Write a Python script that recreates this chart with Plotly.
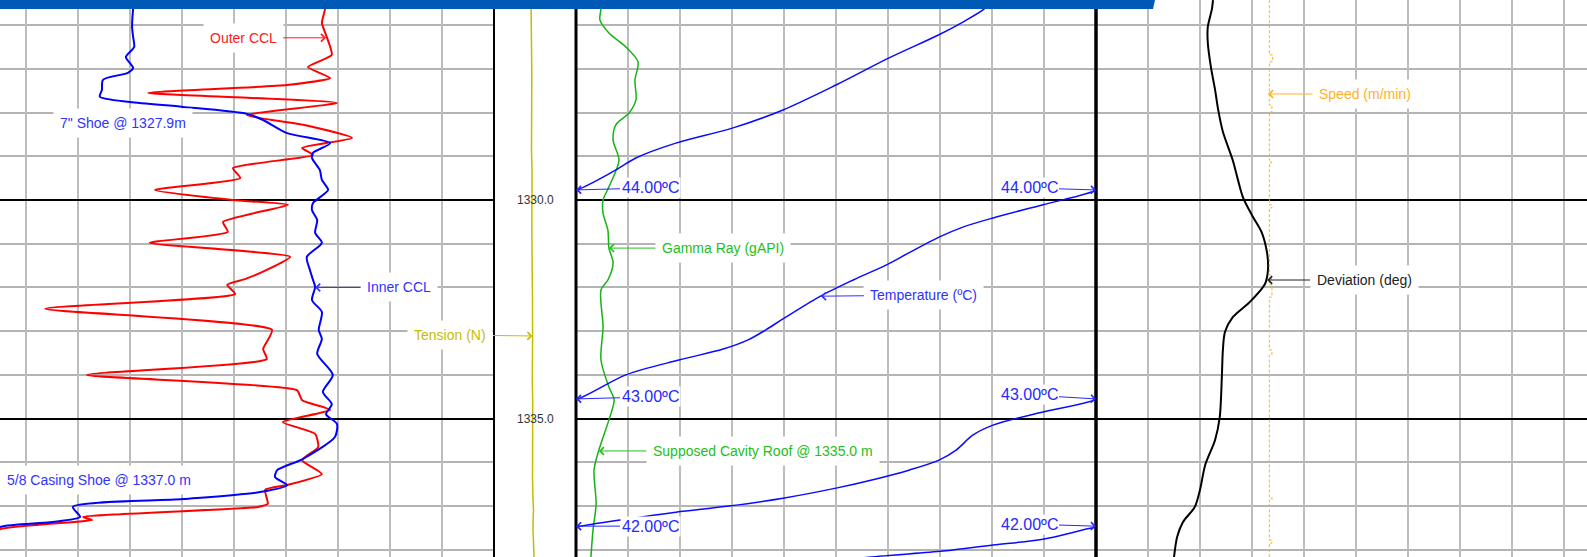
import plotly.graph_objects as go

# ---------------- data ----------------
inner_ccl_depth = [1325.43, 1325.63, 1326.04, 1326.27, 1326.50, 1326.73, 1326.98, 1327.09, 1327.25, 1327.48,
                   1327.64, 1327.76, 1327.87, 1328.03, 1328.17, 1328.47, 1328.70, 1328.92, 1329.04, 1329.31,
                   1329.54, 1329.77, 1330.07, 1330.23, 1330.46, 1330.75, 1330.98, 1331.30, 1331.60, 1331.83,
                   1331.99, 1332.29, 1332.56, 1332.97, 1333.18, 1333.52, 1334.00, 1334.39, 1334.67, 1334.90,
                   1335.12, 1335.42, 1335.93, 1336.18, 1336.34, 1336.52, 1336.68, 1336.84, 1337.02, 1337.25,
                   1337.37, 1337.48, 1337.78, 1338.24]
inner_ccl = [-19.2, -19.4, -19.6, -19.4, -19.2, -20.8, -19.4, -20.4, -25.2, -25.4,
             -25.8, -20.0, -9.8, 2.5, 5.6, 10.2, 18.5, 15.2, 15.0, 16.5,
             16.9, 18.1, 15.2, 15.0, 16.0, 15.6, 16.9, 14.0, 14.6, 15.2,
             15.6, 15.0, 16.9, 16.3, 16.9, 16.0, 19.0, 17.1, 18.8, 17.7,
             19.8, 19.4, 13.1, 8.3, 7.9, 10.2, 5.0, -9.8, -31.0, -29.6,
             -35.4, -45.0, -48.8, -47.9]

outer_ccl_depth = [1325.43, 1325.63, 1325.95, 1326.29, 1326.68, 1326.96, 1327.21, 1327.37, 1327.55, 1327.78,
                   1328.06, 1328.28, 1328.58, 1328.81, 1328.97, 1329.27, 1329.50, 1329.77, 1330.00, 1330.11,
                   1330.50, 1330.73, 1330.98, 1331.30, 1331.60, 1331.81, 1331.94, 1332.15, 1332.49, 1332.97,
                   1333.41, 1333.64, 1334.00, 1334.35, 1334.58, 1334.80, 1335.08, 1335.35, 1335.65, 1335.95,
                   1336.27, 1336.52, 1336.63, 1336.95, 1337.02, 1337.25, 1337.32, 1337.53, 1337.89, 1338.24]
outer_ccl = [17.3, 17.5, 16.9, 17.9, 18.8, 14.2, 18.5, 10.2, -16.5, 19.8,
             2.5, 13.3, 22.7, 13.1, 15.2, -0.2, 1.2, -15.2, -0.2, 10.4,
             -2.1, -1.2, -16.2, 10.8, 6.3, 2.1, -1.3, 0.2, -36.3, 7.3,
             5.6, 6.3, -28.3, 12.1, 13.1, 18.5, 9.4, 15.6, 16.2, 13.1,
             16.9, 10.2, 6.0, 6.5, 4.6, -29.0, -27.3, -45.0, -48.8, -47.9]

tension_depth = [1325.43, 1326.0, 1326.57, 1327.1, 1327.71, 1328.3, 1328.86, 1329.4, 1330.00, 1330.6,
                 1331.14, 1331.7, 1332.29, 1333.11, 1333.6, 1334.12, 1334.6, 1335.03, 1335.5, 1335.95,
                 1336.4, 1336.86, 1337.09, 1337.3, 1337.55, 1337.9, 1338.17]
tension = [4512, 4560, 4549, 4610, 4598, 4560, 4573, 4640, 4671, 4620,
           4634, 4700, 4695, 4707, 4660, 4671, 4720, 4707, 4760, 4732,
           4700, 4756, 4817, 4770, 4756, 4830, 4878]

gamma_depth = [1325.43, 1325.63, 1325.88, 1326.18, 1326.50, 1326.84, 1327.26, 1327.71, 1328.01, 1328.28,
               1328.63, 1329.09, 1329.70, 1330.00, 1330.30, 1330.69, 1331.10, 1331.44, 1331.83, 1332.06,
               1332.90, 1333.66, 1334.28, 1334.57, 1335.03, 1335.72, 1336.18, 1336.95, 1337.55, 1338.17]
gamma = [7.2, 7.2, 6.9, 9.5, 14.4, 17.9, 17.0, 17.3, 15.3, 11.5,
         10.7, 12.4, 9.5, 7.8, 7.8, 9.2, 9.5, 10.7, 9.2, 7.2,
         7.8, 7.2, 9.5, 11.0, 9.5, 6.6, 5.2, 5.8, 4.9, 4.3]

temp_depth = [1325.43, 1325.63, 1325.93, 1326.22, 1326.75, 1327.37, 1327.94, 1328.35, 1328.70, 1329.04,
              1329.31, 1329.78, 1330.11, 1330.41, 1330.62, 1330.85, 1331.21, 1331.49, 1331.83, 1332.22,
              1332.72, 1332.97, 1333.20, 1333.41, 1333.66, 1334.00, 1334.57, 1334.85, 1335.15, 1335.38,
              1335.72, 1335.95, 1336.18, 1336.38, 1336.59, 1336.82, 1337.00, 1337.14, 1337.30, 1337.48,
              1337.76, 1337.89, 1338.03, 1338.17, 1338.35]
temperature = [44.80, 44.785, 44.744, 44.698, 44.602, 44.500, 44.398, 44.302, 44.192, 44.115,
               44.077, 44.000, 43.898, 43.802, 43.744, 43.698, 43.640, 43.596, 43.533, 43.467,
               43.398, 43.365, 43.331, 43.283, 43.198, 43.096, 43.000, 42.898, 42.802, 42.763,
               42.731, 42.698, 42.640, 42.577, 42.500, 42.398, 42.294, 42.192, 42.096, 42.000,
               41.898, 41.802, 41.706, 41.563, 41.45]
temp_wraps = [(44, 45), (43, 44), (42, 43), (41, 42)]

dev_depth = [1325.43, 1325.63, 1326.04, 1326.41, 1326.96, 1327.48, 1327.94, 1328.44, 1329.09, 1329.54,
             1329.95, 1330.39, 1330.75, 1331.21, 1331.53, 1331.76, 1331.92, 1332.33, 1332.68, 1333.02,
             1333.43, 1334.05, 1334.96, 1335.49, 1336.06, 1336.63, 1337.02, 1337.37, 1337.71, 1338.17]
deviation = [2.25, 2.23, 2.15, 2.15, 2.21, 2.29, 2.35, 2.44, 2.63, 2.73,
             2.83, 3.02, 3.19, 3.29, 3.31, 3.29, 3.25, 2.96, 2.63, 2.48,
             2.44, 2.42, 2.38, 2.29, 2.10, 2.00, 1.90, 1.67, 1.56, 1.50]

speed_depth = [1325.43, 1326.68, 1326.84, 1327.03, 1327.83, 1327.99, 1328.12, 1329.09, 1329.15, 1329.27,
               1330.11, 1330.18, 1330.32, 1331.72, 1331.83, 1331.94, 1332.22, 1332.33, 1333.43, 1333.55,
               1333.66, 1335.49, 1336.79, 1336.86, 1336.98, 1337.78, 1337.85, 1337.96, 1338.17]
speed = [10.00, 10.00, 10.19, 10.00, 10.00, 10.15, 10.00, 10.00, 10.12, 10.00,
         10.00, 10.15, 10.00, 10.00, 10.12, 10.00, 10.15, 10.00, 10.00, 10.15,
         10.00, 10.00, 10.00, 10.15, 10.00, 10.00, 10.15, 10.00, 10.00]

depth_labels = [1330.0, 1335.0]

# ---------------- layout geometry ----------------
W, H = 1587, 557
PX_PER_M = 43.72
Y_TOP = 1330 - 200 / PX_PER_M
Y_BOT = 1330 + (H - 200) / PX_PER_M

TRACK1 = (-26, 494)
TRACKD = (494, 576)
TRACK2 = (576, 1096)
TRACK3 = (1096, 1616)


def vis(track, v0, v1):
    p0, p1 = track
    a, b = max(p0, 0), min(p1, W)
    f = lambda p: v0 + (p - p0) / (p1 - p0) * (v1 - v0)
    return [f(a), f(b)], [a / W, b / W]


FONT = "Liberation Sans, Arial, sans-serif"
GRID = "#bdbdbd"

fig = go.Figure()
fig.add_trace(go.Scatter(x=outer_ccl, y=outer_ccl_depth, xaxis="x", yaxis="y", mode="lines",
                         line=dict(color="#ff0000", width=2, shape="spline", smoothing=0.5),
                         name="Outer CCL"))
fig.add_trace(go.Scatter(x=inner_ccl, y=inner_ccl_depth, xaxis="x", yaxis="y", mode="lines",
                         line=dict(color="#0000ff", width=2, shape="spline", smoothing=0.7),
                         name="Inner CCL"))
fig.add_trace(go.Scatter(x=tension, y=tension_depth, xaxis="x2", yaxis="y2", mode="lines",
                         line=dict(color="#c4bc00", width=1.5), name="Tension (N)"))
fig.add_trace(go.Scatter(x=gamma, y=gamma_depth, xaxis="x3", yaxis="y", mode="lines",
                         line=dict(color="#14b414", width=1.5, shape="spline", smoothing=0.8),
                         name="Gamma Ray (gAPI)"))
for i, _ in enumerate(temp_wraps):
    fig.add_trace(go.Scatter(x=temperature, y=temp_depth, xaxis="x%d" % (4 + i), yaxis="y", mode="lines",
                             line=dict(color="#0a0aff", width=1.5, shape="spline", smoothing=0.9),
                             name="Temperature (ºC)"))
fig.add_trace(go.Scatter(x=deviation, y=dev_depth, xaxis="x8", yaxis="y", mode="lines",
                         line=dict(color="#000000", width=2, shape="spline", smoothing=0.8),
                         name="Deviation (deg)"))
fig.add_trace(go.Scatter(x=speed, y=speed_depth, xaxis="x9", yaxis="y", mode="lines",
                         line=dict(color="#ffb21e", width=1, dash="3px,2px", shape="hv"),
                         name="Speed (m/min)"))

base_ax = dict(showticklabels=False, ticks="", zeroline=False, showline=False, fixedrange=True)

r1, d1 = vis(TRACK1, -50, 50)
rd, dd = vis(TRACKD, 0, 10000)
r2, d2 = vis(TRACK2, 0, 150)
r3, d3 = vis(TRACK3, 0, 10)
r3s, _ = vis(TRACK3, 0, 30)

layout = dict(
    width=W, height=H, autosize=False,
    margin=dict(l=0, r=0, t=0, b=0, pad=0),
    paper_bgcolor="white", plot_bgcolor="white",
    showlegend=False,
    yaxis=dict(base_ax, range=[Y_BOT, Y_TOP], domain=[0, 1], anchor="x",
               tickmode="linear", tick0=0, dtick=5, showgrid=True, gridcolor="#000000", gridwidth=2,
               minor=dict(tick0=0, dtick=1, showgrid=True, gridcolor="#b4b4b4", gridwidth=1.5)),
    yaxis2=dict(base_ax, range=[Y_BOT, Y_TOP], domain=[0, 1], anchor="x2", showgrid=False),
    xaxis=dict(base_ax, range=r1, domain=d1, anchor="y", tickmode="linear", tick0=-50, dtick=10,
               showgrid=True, gridcolor=GRID, gridwidth=2),
    xaxis2=dict(base_ax, range=rd, domain=dd, anchor="y2", showgrid=False),
    xaxis3=dict(base_ax, range=r2, domain=d2, anchor="y", tickmode="linear", tick0=0, dtick=15,
                showgrid=True, gridcolor=GRID, gridwidth=2),
    xaxis8=dict(base_ax, range=r3, domain=d3, anchor="y", tickmode="linear", tick0=0, dtick=1,
                showgrid=True, gridcolor=GRID, gridwidth=2),
    xaxis9=dict(base_ax, range=r3s, overlaying="x8", anchor="y", showgrid=False),
)
for i, (lo, hi) in enumerate(temp_wraps):
    layout["xaxis%d" % (4 + i)] = dict(base_ax, range=[lo, hi], overlaying="x3", anchor="y", showgrid=False)
fig.update_layout(**layout)

# track borders and header bar
shapes = []
for px, w in [(TRACKD[0], 2), (TRACKD[1], 3), (TRACK2[1], 3.5)]:
    shapes.append(dict(type="line", xref="paper", yref="paper", x0=px / W, x1=px / W, y0=0, y1=1,
                       line=dict(color="black", width=w), layer="above"))
yb = 1 - 9 / H
shapes.append(dict(type="path", xref="paper", yref="paper",
                   path="M0,1 L%.5f,1 L%.5f,%.5f L0,%.5f Z" % (1155 / W, 1153 / W, yb, yb),
                   fillcolor="#005ab5", line=dict(width=0), layer="above"))
fig.update_layout(shapes=shapes)


def ann(text, x, y, xref, yref="y", ax=0, ay=0, color="black", size=14, arrow=True, bg=True, pad=6):
    return dict(text=text, x=x, y=y, xref=xref, yref=yref, ax=ax, ay=ay, axref="pixel", ayref="pixel",
                showarrow=arrow, arrowhead=4, arrowsize=1.5, arrowwidth=1, arrowcolor=color,
                font=dict(family=FONT, size=size, color=color),
                bgcolor="white" if bg else "rgba(0,0,0,0)", borderpad=pad)


TXT_BLUE = "#3232ff"
annots = [
    ann("Outer CCL", 17.7, 1326.29, "x", ax=-83, ay=0, color="#ff2020"),
    ann("7\" Shoe @ 1327.9m", -21.4, 1328.24, "x", arrow=False, color=TXT_BLUE),
    ann("Inner CCL", 15.6, 1332.0, "x", ax=84, ay=0, color=TXT_BLUE),
    ann("5/8 Casing Shoe @ 1337.0 m", -25.9, 1336.41, "x", arrow=False, color=TXT_BLUE),
    ann("Tension (N)", 4690, 1333.11, "x2", yref="y2", ax=-82, ay=-1, color="#c8bc00"),
    ann("Gamma Ray (gAPI)", 9.5, 1331.10, "x3", ax=114, ay=0, color="#22c022"),
    ann("Supposed Cavity Roof @ 1335.0 m", 6.6, 1335.74, "x3", ax=164, ay=0, color="#22c022"),
    ann("Temperature (ºC)", 43.471, 1332.20, "x5", ax=103, ay=-1, color=TXT_BLUE),
    ann("Speed (m/min)", 9.92, 1327.575, "x9", ax=97, ay=0, color="#ffb21e"),
    ann("Deviation (deg)", 3.29, 1331.83, "x8", ax=97, ay=0, color="#222222"),
]
# wrap labels of the temperature curve
for lbl, xref, tip, ax, ay, d in [
    ("44.00ºC", "x4", 44.0, 74, -2, 1329.77), ("44.00ºC", "x5", 44.0, -67, -2, 1329.77),
    ("43.00ºC", "x5", 43.0, 74, -2, 1334.55), ("43.00ºC", "x6", 43.0, -67, -4, 1334.55),
    ("42.00ºC", "x6", 42.0, 74, 0, 1337.46), ("42.00ºC", "x7", 42.0, -67, -2, 1337.46),
]:
    annots.append(ann(lbl, tip, d, xref, ax=ax, ay=ay, color="#2828ff", size=16, pad=1))
for d in depth_labels:
    annots.append(ann("%.1f" % d, 5000, d, "x2", yref="y2", arrow=False, color="#333333", size=12,
                      bg=False, pad=0))
fig.update_layout(annotations=annots)

fig.write_html("out.html", config={"displayModeBar": False},
               post_script="document.body.style.margin='0';document.body.style.overflow='hidden';")
